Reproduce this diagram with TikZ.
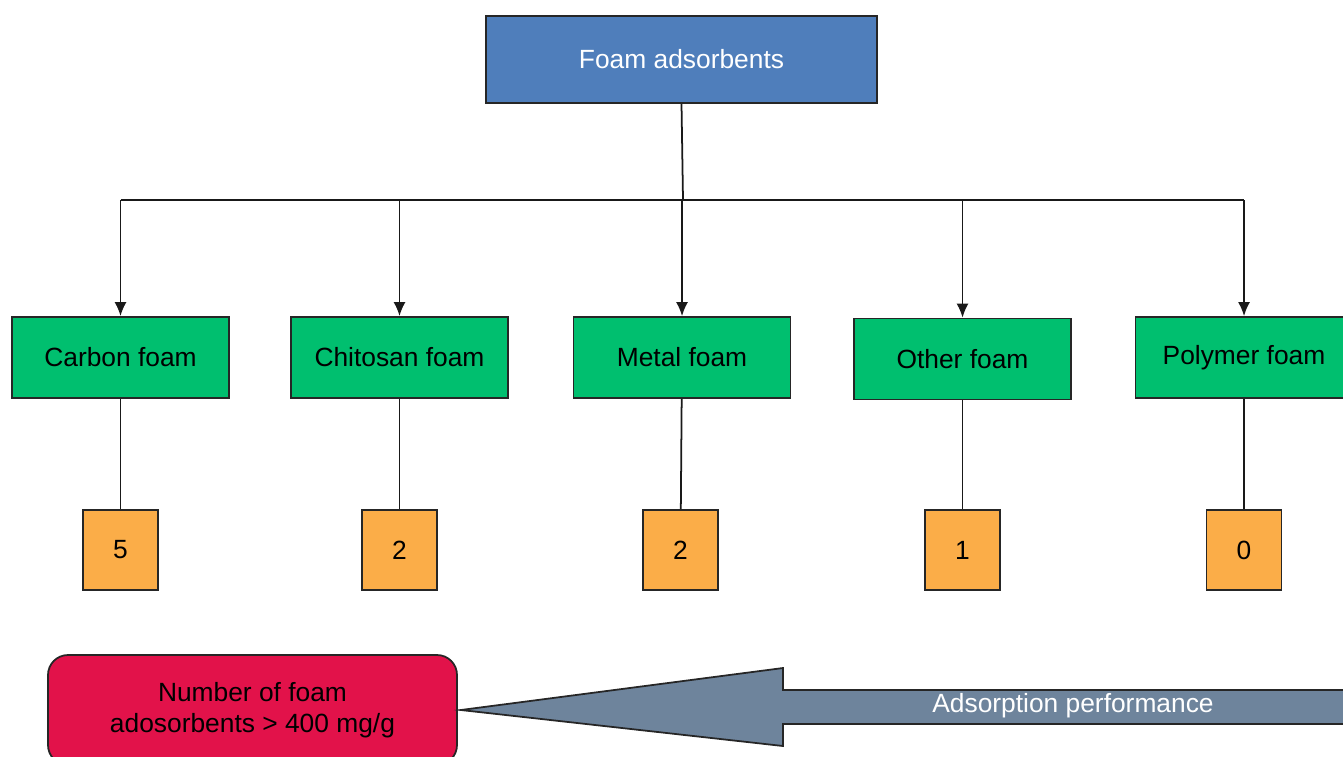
\documentclass[tikz,border=0pt]{standalone}
\usepackage{fontspec}
\setmainfont{Liberation Sans}
\usetikzlibrary{arrows.meta}
\definecolor{foamblue}{HTML}{4F7EBB}
\definecolor{foamgreen}{HTML}{00BF6F}
\definecolor{foamorange}{HTML}{FBAD48}
\definecolor{foamred}{HTML}{E2124A}
\definecolor{foamslate}{HTML}{6E849C}

\begin{document}
\begin{tikzpicture}[
  box/.style={draw=black!85, line width=0.5pt, inner sep=0pt, font=\fontsize{7.5}{8.8}\selectfont},
  main/.style={box, fill=foamblue, text=white, minimum width=3.91cm, minimum height=0.87cm},
  kind/.style={box, fill=foamgreen, minimum width=2.17cm, minimum height=0.81cm},
  count/.style={box, fill=foamorange, minimum width=0.75cm, minimum height=0.80cm},
  link/.style={line width=0.5pt, black!90},
  down/.style={link, -{Latex[length=1.4mm, width=1.2mm]}}
]
\useasboundingbox (0,0) rectangle (13.43,-7.56);
\clip (0,0) rectangle (13.43,-7.56);

\node (foam) at (6.815,-0.595) [main] {Foam adsorbents};
\coordinate (split) at (6.83,-2);

\node (carbon) at (1.205,-3.575) [kind] {Carbon foam};
\node (chitosan) at (3.995,-3.575) [kind] {Chitosan foam};
\node (metal) at (6.82,-3.575) [kind] {Metal foam};
\node (other) at (9.625,-3.59) [kind] {Other foam};
\node (polymer) at (12.44,-3.575) [kind] {Polymer foam};

\node (n5) at (1.205,-5.5) [count] {5};
\node (n2a) at (3.995,-5.5) [count] {2};
\node (n2b) at (6.805,-5.5) [count] {2};
\node (n1) at (9.625,-5.5) [count] {1};
\node (n0) at (12.44,-5.5) [count] {0};

\draw[link] (foam.south) -- (split);
\draw[link] (carbon.north |- split) -- (polymer.north |- split);
\draw[down] (carbon.north |- split) -- (carbon.north);
\draw[down] (chitosan.north |- split) -- (chitosan.north);
\draw[down] (metal.north |- split) -- (metal.north);
\draw[down] (other.north |- split) -- (other.north);
\draw[down] (polymer.north |- split) -- (polymer.north);

\draw[link] (carbon) -- (n5);
\draw[link] (chitosan) -- (n2a);
\draw[link] (metal) -- (n2b);
\draw[link] (other) -- (n1);
\draw[link] (polymer) -- (n0);

\node (result) at (2.525,-7.10) [box, fill=foamred, rounded corners=0.2cm, minimum width=4.09cm, minimum height=1.1cm, align=center] {Number of foam\\adosorbents > 400 mg/g};

\draw[box, fill=foamslate] ([xshift=0.3mm]result.east) -- (7.83,-6.68) -- (7.83,-6.90) -- (13.6,-6.90)
  -- (13.6,-7.24) -- (7.83,-7.24) -- (7.83,-7.46) -- cycle;
\node (perf) at (10.73,-7.06) [font=\fontsize{7.5}{8.8}\selectfont, text=white] {Adsorption performance};

\end{tikzpicture}
\end{document}
